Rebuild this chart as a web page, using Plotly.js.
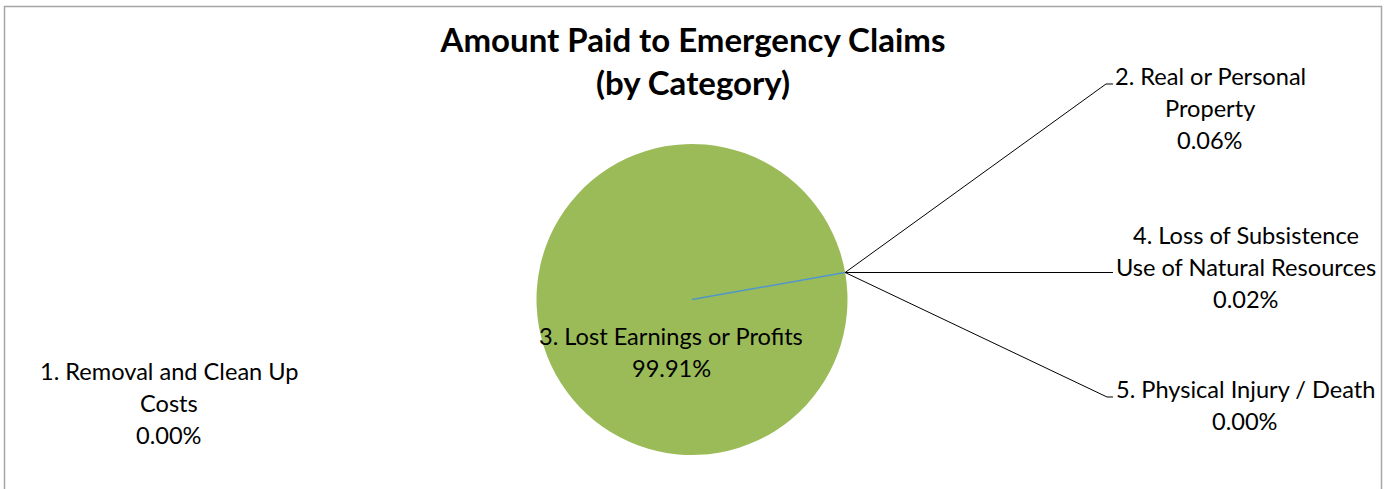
<!DOCTYPE html>
<html>
<head>
<meta charset="utf-8">
<script src="https://cdn.plot.ly/plotly-3.0.1.min.js"></script>
<style>html,body{margin:0;padding:0;background:#fff;}#chart{width:1387px;height:489px;}</style>
</head>
<body>
<div id="chart"></div>
<script>
// ---- data ----
const categories = [
  "1. Removal and Clean Up Costs",
  "2. Real or Personal Property",
  "3. Lost Earnings or Profits",
  "4. Loss of Subsistence Use of Natural Resources",
  "5. Physical Injury / Death"
];
const wrappedLabels = [
  ["1. Removal and Clean Up", "Costs"],
  ["2. Real or Personal", "Property"],
  ["3. Lost Earnings or Profits"],
  ["4. Loss of Subsistence", "Use of Natural Resources"],
  ["5. Physical Injury / Death"]
];
const percentValues = [0.00, 0.06, 99.91, 0.02, 0.00];
const sliceColors = ["#4F81BD", "#C0504D", "#9BBB59", "#8064A2", "#4BACC6"];
const chartTitle = "Amount Paid to Emergency Claims<br>(by Category)";

// ---- layout helpers (pixel -> paper) ----
const W = 1387, H = 489;
const px = x => x / W;
const py = y => 1 - y / H;

const pieCx = 692, pieCy = 299.5, pieR = 155.5;
const rotation = 80;

// label block centres (pixels)
const labelPos = [
  {x: 169, y: 403},
  {x: 1210, y: 108},
  {x: 671, y: 352},
  {x: 1246, y: 267},
  {x: 1245, y: 405}
];
const lineGap = 32;
const font = {family: "Lato, 'Liberation Sans', sans-serif", size: 23.6, color: "#000"};

const annotations = [];
categories.forEach((c, i) => {
  const lines = wrappedLabels[i].concat([percentValues[i].toFixed(2) + "%"]);
  const n = lines.length;
  lines.forEach((t, j) => {
    annotations.push({
      text: t, showarrow: false, xref: "paper", yref: "paper",
      x: px(labelPos[i].x), y: py(labelPos[i].y + (j - (n - 1) / 2) * lineGap),
      xanchor: "center", yanchor: "middle", font: font
    });
  });
});

// edge point of the slice boundary at the rotation angle
const a = rotation * Math.PI / 180;
const ex = pieCx + pieR * Math.sin(a);
const ey = pieCy - pieR * Math.cos(a);

function pathOf(pts) {
  return pts.map((p, k) => (k ? "L" : "M") + px(p[0]).toFixed(5) + "," + py(p[1]).toFixed(5)).join(" ");
}
const leader = {type: "path", xref: "paper", yref: "paper", line: {color: "#000", width: 1}};
const shapes = [
  {type: "rect", xref: "paper", yref: "paper", x0: px(4.5), x1: px(1381.5), y0: py(6.5), y1: -0.1,
   line: {color: "#A6A6A6", width: 1.5}, fillcolor: "rgba(0,0,0,0)"},
  {type: "line", xref: "paper", yref: "paper", x0: px(pieCx), y0: py(pieCy), x1: px(ex), y1: py(ey),
   line: {color: "#4F96C8", width: 1.5}},
  Object.assign({path: pathOf([[ex, ey], [1106, 84], [1113, 84]])}, leader),
  Object.assign({path: pathOf([[ex, ey], [1113, ey]])}, leader),
  Object.assign({path: pathOf([[ex, ey], [1107, 397], [1113, 397]])}, leader)
];

const trace = {
  type: "pie",
  labels: categories,
  values: percentValues,
  sort: false,
  direction: "clockwise",
  rotation: rotation,
  textinfo: "none",
  hoverinfo: "label+percent",
  marker: {colors: sliceColors, line: {width: 0}},
  domain: {x: [px(pieCx - pieR), px(pieCx + pieR)], y: [py(pieCy + pieR), py(pieCy - pieR)]},
  showlegend: false
};

const layout = {
  width: W, height: H,
  margin: {l: 0, r: 0, t: 0, b: 0},
  paper_bgcolor: "#fff",
  showlegend: false,
  title: {
    text: chartTitle, x: px(693), xanchor: "center", y: py(52), yanchor: "middle",
    font: {family: "Lato, 'Liberation Sans', sans-serif", size: 33, color: "#000", weight: "bold"}
  },
  annotations: annotations,
  shapes: shapes
};

Plotly.newPlot("chart", [trace], layout, {displayModeBar: false, staticPlot: true});
</script>
</body>
</html>
